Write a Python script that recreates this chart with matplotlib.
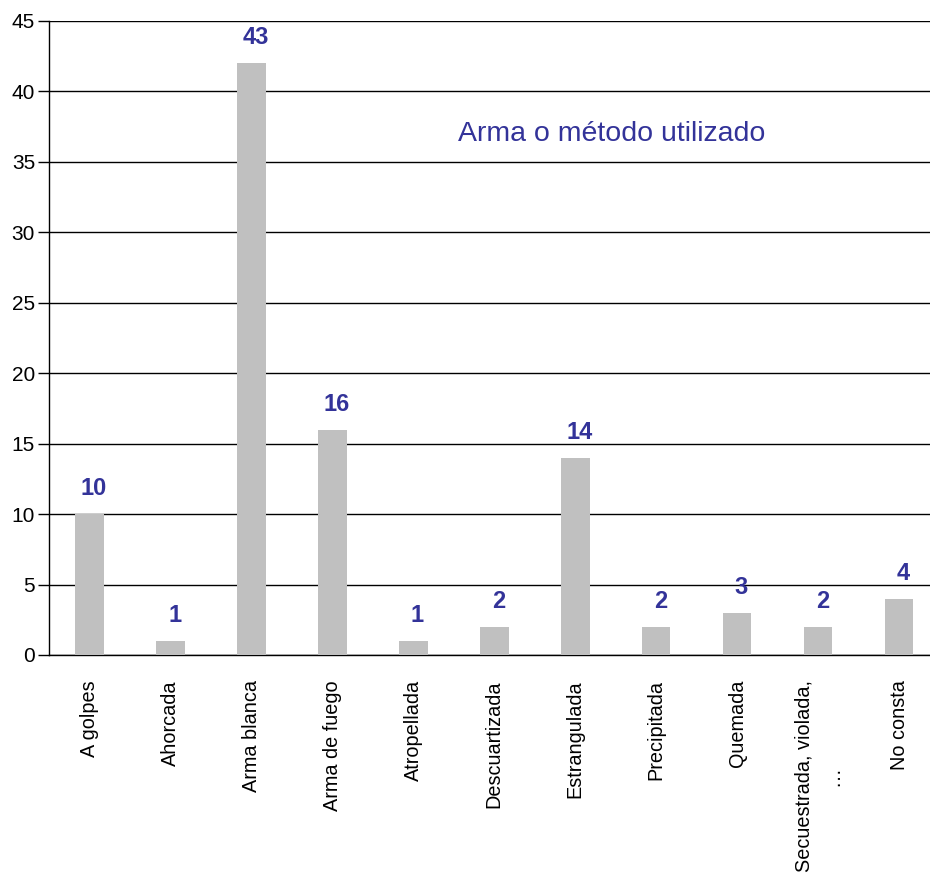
import matplotlib
matplotlib.use("Agg")
import matplotlib.pyplot as plt
import numpy as np

# Datos del grafico
categorias = ["A golpes", "Ahorcada", "Arma blanca", "Arma de fuego", "Atropellada",
              "Descuartizada", "Estrangulada", "Precipitada", "Quemada",
              "Secuestrada, violada,\n…", "No consta"]
alturas = [10, 1, 42, 16, 1, 2, 14, 2, 3, 2, 4]
etiquetas = ["10", "1", "43", "16", "1", "2", "14", "2", "3", "2", "4"]
titulo = "Arma o método utilizado"

plt.rcParams["font.family"] = ["Liberation Sans", "DejaVu Sans"]

fig = plt.figure(figsize=(9.3, 8.74), dpi=100)
ax = fig.add_axes([49/930, 1-655/874, 1-49/930, 634/874])

x = np.arange(len(categorias))
ax.bar(x, alturas, width=0.35, color="#c0c0c0", edgecolor="none", zorder=3)

for xi, h, t in zip(x, alturas, etiquetas):
    ax.annotate(t, (xi, h), xytext=(3, 10), textcoords="offset points",
                ha="center", va="bottom", fontsize=17, fontweight="bold",
                color="#333399", zorder=4)

ax.text(6.45, 37, titulo, ha="center", va="center", fontsize=20.5, color="#333399")

ax.set_xlim(-0.5, 10.38)
ax.set_ylim(0, 45)
ax.set_yticks(range(0, 46, 5))
ax.yaxis.grid(True, color="black", linewidth=1)
ax.set_axisbelow(True)
ax.set_xticks(x)
ax.set_xticklabels(categorias, rotation=90, ha="center", va="top", fontsize=14.3,
                   multialignment="center", linespacing=1.7)
ax.tick_params(axis="x", length=0, pad=18)
ax.tick_params(axis="y", length=8, width=1, labelsize=15, pad=2)
for s in ["top", "right"]:
    ax.spines[s].set_visible(False)
ax.spines["left"].set_linewidth(1)
ax.spines["bottom"].set_linewidth(1)

fig.savefig("out.png", dpi=100)
